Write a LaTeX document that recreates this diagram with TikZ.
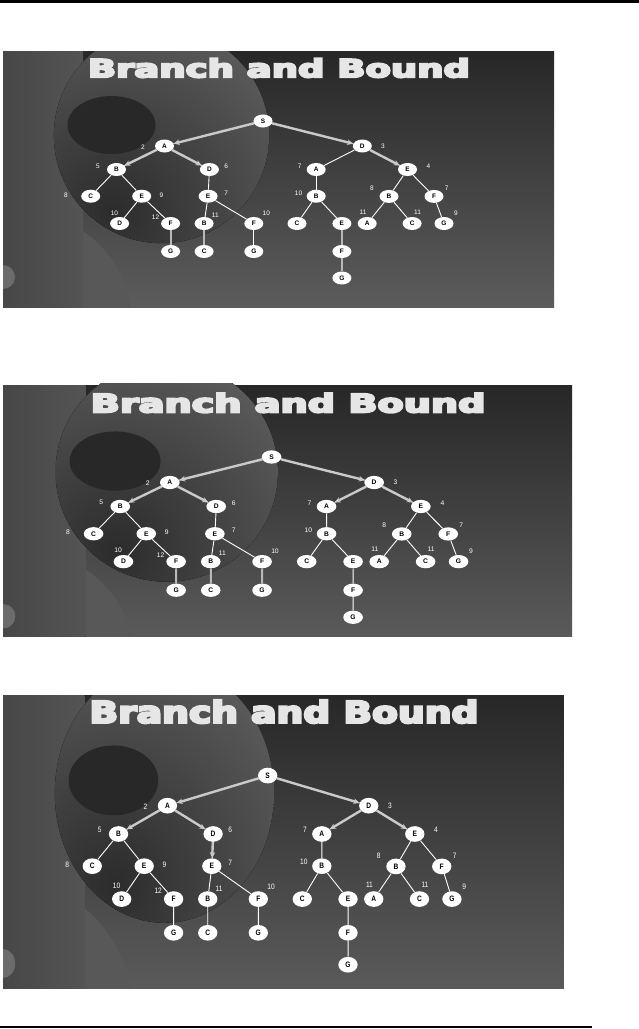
\documentclass[tikz,border=0pt]{standalone}
\usepackage{graphicx}
\usepackage{fontspec}
\setmainfont{Liberation Sans}
\newfontfamily\titlefont[FakeBold=7]{DejaVu Sans Bold}
\usetikzlibrary{arrows.meta,shapes.geometric}
\definecolor{bgtop}{HTML}{272727}
\definecolor{bgbot}{HTML}{5C5C5C}
\definecolor{lowgray}{HTML}{585858}
\definecolor{bandl}{HTML}{474747}
\definecolor{bandm}{HTML}{727272}
\definecolor{bandr}{HTML}{545454}
\definecolor{ringin}{HTML}{2C2C2C}
\definecolor{ringout}{HTML}{7A7A7A}
\definecolor{holegray}{HTML}{282828}
\definecolor{knobgray}{HTML}{6C6C6C}
\definecolor{titlegray}{HTML}{E6E6E6}
\definecolor{bestgray}{HTML}{CACACA}
\definecolor{dimgray}{HTML}{B8B8B8}
\tikzset {
  >=Stealth,
  every node/.style={font=\small},
  vx/.style={ellipse,fill=white,minimum width=19pt,minimum height=13pt,inner sep=0pt,
    font=\bfseries\fontsize{6.5}{6.5}\selectfont},
  num/.style={text=white,inner sep=0pt,font=\fontsize{6.5}{6.5}\selectfont},
  edge/.style={draw=white,line width=0.9pt},
  best/.style={draw=bestgray,line width=2.4pt,-{Stealth[length=6pt,width=5.5pt]}},
  dim/.style={draw=dimgray,line width=2pt},
}

% one slide, drawn in the units of the first one (551 x 256)
\newcommand\bbslide{%
  \fill[top color=bgtop,bottom color=bgbot] (0,0) rectangle (551,256);
  \fill[lowgray] (20,270) circle[radius=108];
  \fill[left color=bandl,middle color=bandm,right color=bandr] (0,0) rectangle (80,256);
  \begin{scope}
    \clip (158.5,84.6) circle[radius=107.6];
    \fill[inner color=ringin,outer color=ringout] (110,160) circle[radius=340];
  \end{scope}
  \fill[holegray] (108.5,74) ellipse[x radius=44,y radius=29];
  \fill[knobgray] (0,226) circle[radius=12];
  \node[text=titlegray] (title) at (276,17) {\resizebox{382pt}{19pt}{\titlefont Branch and Bound}};

  % search tree
  \foreach \n/\x/\y/\t in {s/260/70/S, sa/161.5/95/A, sd/359.3/95/D,
      sab/113.5/118.5/B, sad/206.4/118.5/D, sda/313.2/118.5/A, sde/404.5/118.5/E,
      sabc/87.7/145.2/C, sabe/138.7/145.2/E, sade/205.1/145.2/E, sdab/313.2/145.2/B,
      sdeb/386/145.4/B, sdef/431/145.4/F,
      sabed/116.6/172.5/D, sabef/167.6/172.5/F, sadeb/201.1/172.5/B, sadef/250.8/172.5/F,
      sdabc/294/172.5/C, sdabe/338.9/172.5/E, sdeba/364.2/172.5/A, sdebc/409.1/172.5/C,
      sdefg/441/172.5/G,
      sabefg/167.6/200.5/G, sadebc/201.1/200.5/C, sadefg/250.8/200.5/G, sdabef/338.9/200.5/F,
      sdabefg/338.9/227/G}
    \node[vx] (\n) at (\x,\y) {\t};

  \foreach \a/\b in {s/sa, s/sd, sa/sab, sa/sad, sab/sabc, sab/sabe, sabe/sabed, sabe/sabef,
      sabef/sabefg, sad/sade, sade/sadeb, sade/sadef, sadeb/sadebc, sadef/sadefg,
      sd/sda, sd/sde, sda/sdab, sdab/sdabc, sdab/sdabe, sdabe/sdabef, sdabef/sdabefg,
      sde/sdeb, sde/sdef, sdeb/sdeba, sdeb/sdebc, sdef/sdefg}
    \draw[edge] (\a) -- (\b);

  % bounds
  \foreach \n/\x/\y/\t in {n2/140/95.8/2, n3/380/95.2/3, n5/95/114.8/5, n6/223.3/115/6,
      n7a/296.6/115/7, n4/425.4/115/4, n8a/63/144/8, n9a/158.5/144/9, n7b/223.3/142/7,
      n10a/295.5/141.8/10, n8b/369/136.8/8, n7c/443.7/136.8/7, n10b/111.5/161.8/10,
      n12/152.5/165.8/12, n11a/212.3/164/11, n10c/263.3/162.3/10, n11b/360/160.8/11,
      n11c/414.5/160.8/11, n9b/453/162/9}
    \node[num] (\n) at (\x,\y) {\t};
}

\begin{document}
\begin{tikzpicture}[x=1pt,y=-1pt]
  \useasboundingbox (0,0) rectangle (639,1029);
  \fill (0,0) rectangle (639,3);
  \fill (0,1026) rectangle (592,1028.3);

  \foreach \k/\fy/\oy/\sx/\sy/\w/\h in {1/51/0/1/1/551/256,
      2/383/2.5/1.033/1.021/569/253, 3/695/-3.8/1.018/1.205/561/293}{
    \begin{scope}
      \clip (3,\fy) rectangle ++(\w,\h);
      \begin{scope}[shift={(3,\fy+\oy)},xscale=\sx,yscale=\sy,transform shape]
        \bbslide
        \foreach \a/\b in {s/sa, s/sd, sa/sab, sa/sad, sd/sde}
          \draw[best] (\a) -- (\b);
        \ifnum\k>1 \draw[best] (sd) -- (sda); \fi
        \ifnum\k=3 \draw[best] (sad) -- (sade); \fi
        \ifnum\k=1
          \foreach \a/\b in {sabef/sabefg, sadeb/sadebc, sdabe/sdabef, sdabef/sdabefg}
            \draw[dim] (\a) -- (\b);
        \fi
        \ifnum\k=2
          \foreach \a/\b in {sabef/sabefg, sadeb/sadebc, sadef/sadefg}
            \draw[dim] (\a) -- (\b);
        \fi
      \end{scope}
    \end{scope}
  }
\end{tikzpicture}
\end{document}
